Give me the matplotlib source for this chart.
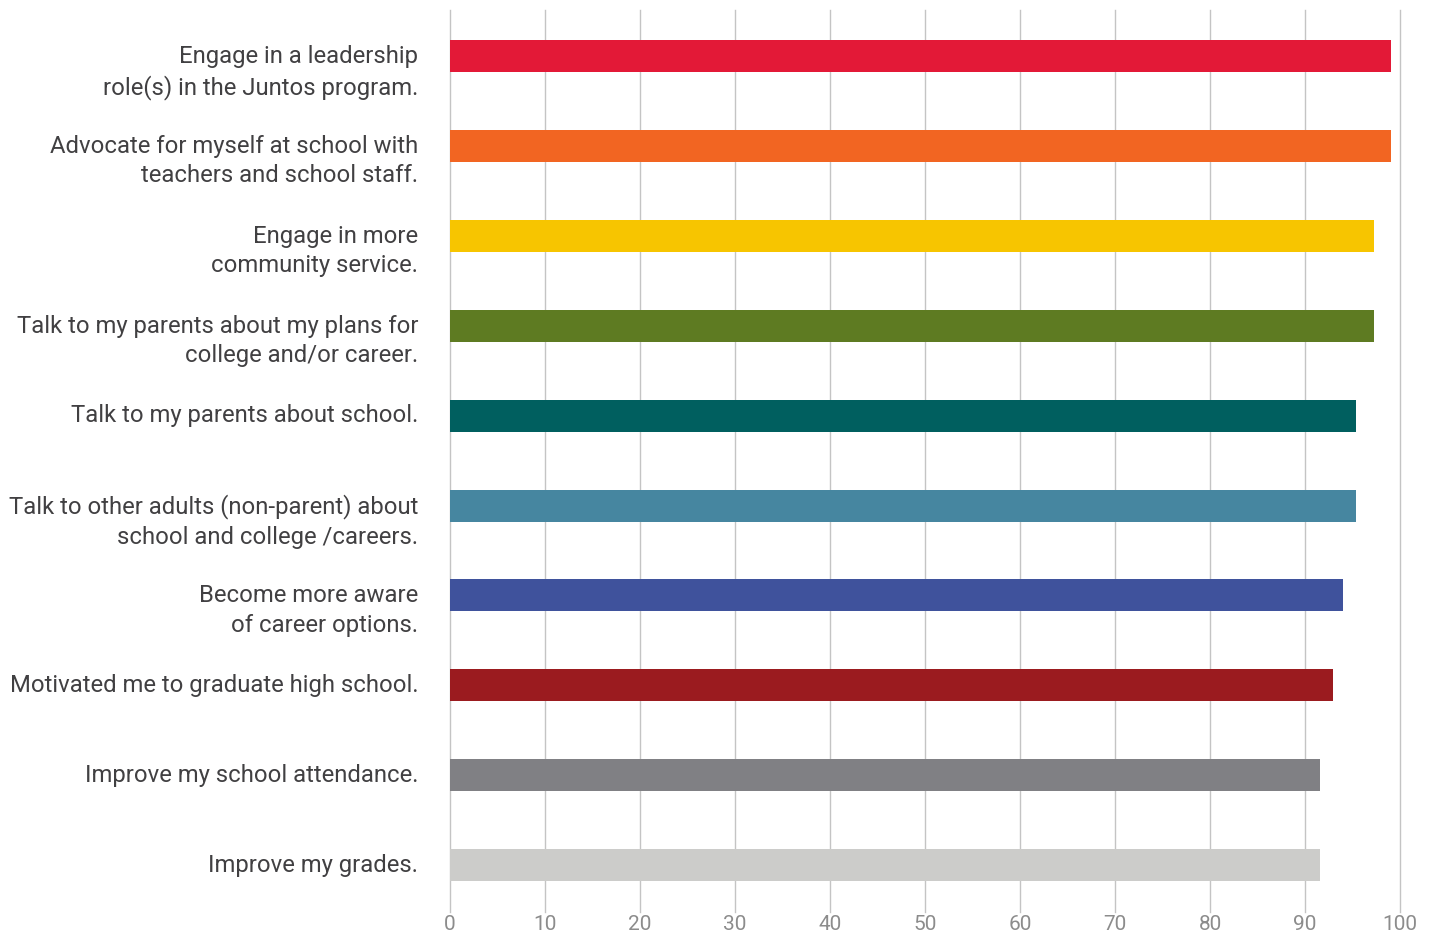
import matplotlib.pyplot as plt
from matplotlib import font_manager

labels = [
    "Engage in a leadership\nrole(s) in the Juntos program.",
    "Advocate for myself at school with\nteachers and school staff.",
    "Engage in more\ncommunity service.",
    "Talk to my parents about my plans for\ncollege and/or career.",
    "Talk to my parents about school.",
    "Talk to other adults (non-parent) about\nschool and college /careers.",
    "Become more aware\nof career options.",
    "Motivated me to graduate high school.",
    "Improve my school attendance.",
    "Improve my grades.",
]
values = [99.1, 99.1, 97.3, 97.3, 95.4, 95.4, 94.0, 92.9, 91.6, 91.6]
colors = ["#E31937", "#F26522", "#F7C500", "#5E7B22", "#005F5F",
          "#4686A0", "#3F529C", "#9B1B1F", "#808084", "#CCCCCA"]
xticks = [0, 10, 20, 30, 40, 50, 60, 70, 80, 90, 100]

names = {f.name for f in font_manager.fontManager.ttflist}
family = "Liberation Sans Narrow" if "Liberation Sans Narrow" in names else "Roboto"

fig = plt.figure(figsize=(14.35, 9.36), dpi=100)
ax = fig.add_axes([450 / 1435, 1 - 912 / 936, 950 / 1435, 902 / 936])

ypos = list(range(len(labels)))
ax.barh(ypos, values, height=0.356, color=colors, zorder=3)
ax.set_xlim(0, 100)
ax.set_ylim(9.52, -0.51)

ax.set_xticks(xticks)
ax.set_xticklabels([str(t) for t in xticks], family=family, fontsize=15, color="#8c8c8c")
ax.tick_params(axis="x", length=0, pad=2)
ax.set_yticks([])
ax.grid(axis="x", color="#c4c4c4", lw=1.0, zorder=0)
for gl in ax.get_xgridlines():
    gl.set_clip_on(False)
for s in ax.spines.values():
    s.set_visible(False)

for y, lab in zip(ypos, labels):
    ax.annotate(lab, xy=(0, y), xycoords=("axes fraction", "data"),
                xytext=(-23, 8), textcoords="offset points",
                ha="right", va="top", multialignment="right",
                family=family, fontsize=17.2, color="#414042", linespacing=1.36)

fig.savefig("out.png", dpi=100)
